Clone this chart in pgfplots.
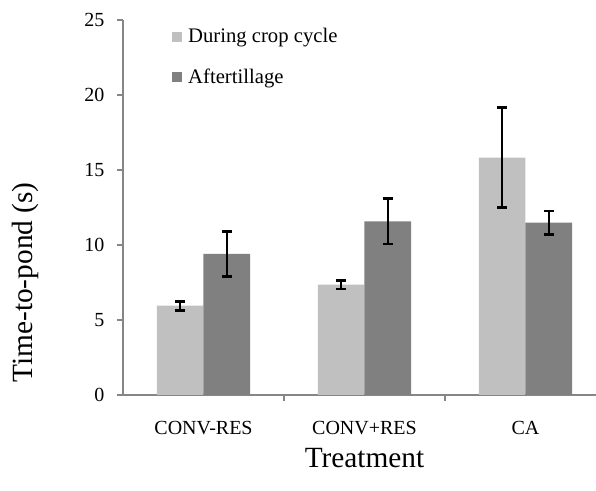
\documentclass[border=0pt]{standalone}
\usepackage{fontspec}
\setmainfont{Liberation Serif}
\usepackage{pgfplots}
\pgfplotsset{compat=1.18}
\definecolor{lightbar}{HTML}{C0C0C0}
\definecolor{darkbar}{HTML}{808080}
\definecolor{axisgray}{HTML}{868686}
\begin{document}
\begin{tikzpicture}
\begin{axis}[
  at={(0,0)}, anchor=south west,
  scale only axis, width=362.25pt, height=281.25pt,
  xmin=-0.5, xmax=2.5, ymin=0, ymax=25,
  ytick={0,5,10,15,20,25},
  xtick={0.5,1.5}, xticklabels={},
  extra x ticks={0,1,2}, extra x tick labels={CONV-RES,CONV+RES,CA},
  extra x tick style={major tick length=0pt, xticklabel style={yshift=-16pt}},
  axis x line*=bottom, axis y line*=left,
  axis line style={axisgray, line width=1.5pt, -},
  tick align=outside,
  major tick length=4.5pt,
  every tick/.style={axisgray, line width=1.5pt},
  /pgf/number format/assume math mode=true,
  tick label style={font=\fontsize{15}{18}\selectfont},
  yticklabel style={xshift=-6pt},
  label style={font=\fontsize{22}{26}\selectfont},
  xlabel={Treatment},
  ylabel={Time-to-pond (s)},
  xlabel style={at={(axis description cs:0.5,-0.168)}, anchor=center},
  ylabel style={at={(axis description cs:-0.203,0.30)}, anchor=center},
  legend style={draw=none, fill=none, at={(axis description cs:0.1014,0.985)}, anchor=north west, font=\fontsize{15.5}{18}\selectfont, row sep=14pt, inner sep=0pt,
    /tikz/every odd column/.append style={column sep=2.5pt}},
  legend cell align=left,
  legend image code/.code={\fill[#1] (0pt,-3.75pt) rectangle (7.5pt,3.75pt);},
  error bars/y dir=both, error bars/y explicit,
  error bars/error bar style={black, line width=2pt},
  error bars/error mark options={rotate=90, black, mark size=3.75pt, line width=2pt},
]
\addplot[ybar, bar width=0.29, bar shift=0, fill=lightbar, draw=none]
  coordinates {(-0.145,5.95) +- (0,0.30) (0.855,7.35) +- (0,0.28) (1.855,15.82) +- (0,3.33)};
\addplot[ybar, bar width=0.29, bar shift=0, fill=darkbar, draw=none]
  coordinates {(0.145,9.40) +- (0,1.50) (1.145,11.58) +- (0,1.52) (2.145,11.49) +- (0,0.77)};
\legend{During crop cycle, Aftertillage}
\end{axis}
\pgfresetboundingbox
\useasboundingbox (-92.25pt,-72pt) rectangle (354.75pt,296.25pt);
\end{tikzpicture}
\end{document}
